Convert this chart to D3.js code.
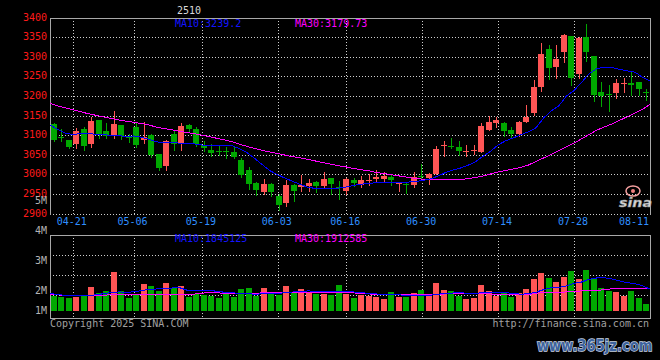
<!DOCTYPE html>
<html><head><meta charset="utf-8">
<script src="https://cdn.jsdelivr.net/npm/d3@7/dist/d3.min.js"></script>
<style>html,body{margin:0;padding:0;background:#000;overflow:hidden}</style>
</head><body><svg id="c" width="660" height="360"></svg>
<script>
const title = "2510";
const dates = ["04-16","04-17","04-18","04-21","04-22","04-23","04-24","04-25","04-28","04-29","04-30","05-06","05-07","05-08","05-09","05-12","05-13","05-14","05-15","05-16","05-19","05-20","05-21","05-22","05-23","05-26","05-27","05-28","05-29","05-30","06-03","06-04","06-05","06-06","06-09","06-10","06-11","06-12","06-13","06-16","06-17","06-18","06-19","06-20","06-23","06-24","06-25","06-26","06-27","06-30","07-01","07-02","07-03","07-04","07-07","07-08","07-09","07-10","07-11","07-14","07-15","07-16","07-17","07-18","07-21","07-22","07-23","07-24","07-25","07-28","07-29","07-30","07-31","08-01","08-04","08-05","08-06","08-07","08-08","08-11"];
const open  = [3129,3097,3089,3078,3118,3078,3139,3113,3099,3128, 3098,3121,3088,3102,3052,3022,3105,3082,3126,3118, 3076,3064,3061,3061,3057,3038,3011,2980,2957,2977, 2947,2927,2975,2968,2972,2982,2972,2993,2970,2958, 2988,2975,2987,2989,2989,2995,2977,2976,2974,2998, 2991,3003,3074,3074,3070,3060,3061,3058,3114,3133, 3131,3115,3103,3135,3158,3224,3320,3275,3314,3353, 3258,3352,3303,3211,3207,3208,3234,3234,3236,3212];
const high  = [3133,3118,3090,3120,3123,3147,3139,3132,3164,3128, 3105,3131,3135,3105,3052,3088,3112,3133,3130,3121, 3085,3079,3074,3070,3070,3043,3019,2982,2989,2979, 2951,2987,2976,3000,2989,2985,3008,2993,2985,2993, 2993,2997,3001,3012,3007,3003,2978,2978,3007,3027, 3005,3073,3086,3095,3086,3075,3077,3132,3149,3147, 3135,3123,3137,3177,3242,3336,3330,3330,3359,3353, 3351,3384,3303,3236,3230,3244,3247,3262,3238,3219];
const low   = [3086,3085,3069,3069,3062,3070,3094,3094,3094,3091, 3083,3070,3082,3045,3013,3011,3064,3064,3109,3073, 3061,3047,3051,3043,3043,2994,2964,2949,2951,2947, 2910,2921,2932,2959,2959,2955,2970,2952,2938,2950, 2971,2969,2975,2982,2985,2975,2958,2953,2970,2991, 2976,3001,3047,3069,3050,3047,3054,3058,3114,3122, 3100,3094,3100,3135,3152,3214,3245,3247,3289,3230, 3248,3291,3187,3175,3164,3196,3212,3204,3204,3191];
const close = [3089,3093,3072,3113,3073,3136,3105,3100,3129,3100, 3093,3075,3096,3050,3018,3085,3079,3125,3116,3079, 3068,3055,3060,3060,3045,3000,2977,2961,2977,2957, 2924,2975,2958,2975,2980,2972,2989,2977,2969,2990, 2980,2986,2988,2995,2997,2986,2978,2975,2995,2997, 3003,3065,3075,3072,3060,3061,3063,3124,3134,3140, 3111,3103,3134,3148,3225,3308,3272,3295,3357,3247, 3350,3313,3204,3201,3205,3234,3235,3230,3218,3210];
const volume = [1235000,1176000,1126000,1176000,1235000,1992000,1487000,1655000,3277000,1655000,
  1092000,1319000,2269000,2101000,1681000,2353000,1908000,2076000,1176000,1429000,
  1319000,1294000,1092000,1462000,1176000,1824000,1908000,1235000,1908000,1513000,
  1319000,2101000,1597000,1824000,1630000,1462000,1403000,1319000,2160000,1429000,
  1092000,1345000,1261000,1151000,983000,1571000,1176000,1151000,1487000,1739000,
  1261000,2328000,1739000,1655000,1261000,983000,1092000,2160000,1655000,1261000,
  1487000,1176000,1487000,1824000,2664000,3168000,2748000,2471000,2832000,3336000,
  2664000,3420000,2664000,1908000,1655000,1571000,1261000,1655000,1092000,563000];
const ma10 = [3127,3116,3106,3103,3105,3106,3103,3102,3101,3100, 3098,3099,3096,3091,3084,3082,3082,3081,3080,3079, 3076,3074,3074,3074,3074,3066,3056,3041,3025,3010, 3000,2991,2983,2975,2968,2965,2965,2965,2966,2969, 2973,2976,2978,2980,2981,2981,2981,2981,2983,2985, 2989,2996,3005,3012,3017,3024,3033,3047,3060,3076, 3087,3094,3102,3110,3120,3145,3163,3176,3201,3215, 3236,3258,3271,3274,3274,3269,3265,3262,3249,3239.2];
const ma30 = [3182,3176,3171,3166,3161,3156,3152,3148,3144,3140, 3137,3134,3131,3127,3122,3118,3115,3111,3108,3105, 3101,3097,3093,3089,3084,3078,3072,3067,3062,3058, 3054,3050,3046,3043,3039,3035,3031,3027,3023,3020, 3016,3013,3010,3006,3003,3000,2997,2994,2991,2989, 2988,2988,2988,2988,2988,2990,2993,2997,3002,3007, 3011,3015,3019,3025,3034,3043,3052,3062,3071,3081, 3092,3103,3114,3122,3130,3139,3148,3157,3167,3179.73];
const volMa10 = [1460000,1400000,1300000,1280000,1320000,1330000,1350000,1450000,1550000,1600000, 1590000,1600000,1720000,1810000,1850000,1890000,1930000,1970000,1760000,1740000, 1760000,1760000,1640000,1580000,1530000,1480000,1480000,1390000,1470000,1470000, 1470000,1550000,1600000,1640000,1690000,1650000,1600000,1610000,1630000,1620000, 1600000,1530000,1490000,1430000,1360000,1370000,1350000,1330000,1270000,1300000, 1310000,1410000,1460000,1510000,1540000,1480000,1470000,1570000,1590000,1540000, 1560000,1450000,1420000,1440000,1580000,1800000,1960000,1990000,2110000,2320000, 2440000,2660000,2780000,2790000,2690000,2530000,2380000,2300000,2120000,1845125];
const volMa30 = [1430000,1360000,1300000,1290000,1290000,1290000,1300000,1340000,1350000,1360000, 1390000,1400000,1400000,1400000,1400000,1400000,1410000,1410000,1410000,1420000, 1500000,1540000,1540000,1470000,1460000,1460000,1460000,1470000,1530000,1550000, 1550000,1550000,1550000,1550000,1550000,1550000,1550000,1550000,1550000,1550000, 1520000,1450000,1430000,1420000,1360000,1350000,1350000,1350000,1350000,1350000, 1360000,1420000,1430000,1430000,1430000,1430000,1430000,1430000,1430000,1360000, 1350000,1350000,1350000,1360000,1500000,1550000,1570000,1580000,1600000,1630000, 1700000,1720000,1730000,1800000,1870000,1880000,1860000,1850000,1880000,1912585];
const priceTicks = [3400,3350,3300,3250,3200,3150,3100,3050,3000,2950,2900];
const dateTicks = ["04-21","05-06","05-19","06-03","06-16","06-30","07-14","07-28","08-11"];
const volTicks = [5000000,4000000,3000000,2000000,1000000];

const W = 660, H = 360;
const L = 50, R = 650, mainTop = 18, mainBot = 214, volTop = 235, volBot = 318, volBase = 311;
const FONT = "DejaVu Sans Mono";
const RED = "#ff5555", GREEN = "#00a800", GRID = "#cfcfcf", BORDER = "#a8a8a8";

const svg = d3.select("#c");
svg.append("rect").attr("width", W).attr("height", H).attr("fill", "#000");

const xBand = d3.scaleBand().domain(dates).range([L, R]).paddingInner(0.2).paddingOuter(0.1);
const xPt = d3.scalePoint().domain(dates).range([L, R]);
const yP = d3.scaleLinear().domain([2900, 3400]).range([mainBot, mainTop]);
const yV = d3.scaleLinear().domain([0, 6390000]).range([volBase, volTop]);
const yVLab = d3.scaleLinear().domain([1000000, 2000000, 5000000]).range([314.3, 294, 204.3]);

const rows = dates.map((d, i) => ({d, o: open[i], h: high[i], l: low[i], c: close[i], v: volume[i]}));
const colorOf = r => (r.c > r.o ? RED : (r.c < r.o ? GREEN : RED));

// grid
const grid = svg.append("g").attr("stroke", GRID).attr("stroke-dasharray", "1,2").attr("shape-rendering", "crispEdges");
priceTicks.filter(t => t < 3400).forEach(t => {
  const y = Math.floor(yP(t)) + 0.5;
  grid.append("line").attr("x1", L).attr("x2", R).attr("y1", y).attr("y2", y);
});
dateTicks.forEach(d => {
  const x = Math.round(xPt(d)) + 0.5;
  grid.append("line").attr("x1", x).attr("x2", x).attr("y1", mainTop).attr("y2", mainBot);
  grid.append("line").attr("x1", x).attr("x2", x).attr("y1", volTop).attr("y2", volBot);
});
[1, 2, 3].forEach(k => {
  const y = volTop + k * 20 + 0.5;
  grid.append("line").attr("x1", L).attr("x2", R).attr("y1", y).attr("y2", y);
});

// borders
const bd = svg.append("g").attr("stroke", BORDER).attr("shape-rendering", "crispEdges");
bd.append("line").attr("x1", L).attr("x2", R + 1).attr("y1", mainTop + 0.5).attr("y2", mainTop + 0.5);
bd.append("line").attr("x1", L + 0.5).attr("x2", L + 0.5).attr("y1", mainTop).attr("y2", mainBot + 1);
bd.append("line").attr("x1", R + 0.5).attr("x2", R + 0.5).attr("y1", mainTop).attr("y2", mainBot + 1);
bd.append("line").attr("x1", L).attr("x2", R + 1).attr("y1", volTop + 0.5).attr("y2", volTop + 0.5);
bd.append("line").attr("x1", L).attr("x2", R + 1).attr("y1", volBot + 0.5).attr("y2", volBot + 0.5);
bd.append("line").attr("x1", L + 0.5).attr("x2", L + 0.5).attr("y1", volTop).attr("y2", volBot + 1);
bd.append("line").attr("x1", R + 0.5).attr("x2", R + 0.5).attr("y1", volTop).attr("y2", volBot + 1);

// volume bars
const bw = Math.round(xBand.bandwidth());
svg.append("g").attr("shape-rendering", "crispEdges").selectAll("rect").data(rows).join("rect")
  .attr("x", r => Math.round(xBand(r.d)))
  .attr("width", bw)
  .attr("y", r => Math.round(yV(r.v)))
  .attr("height", r => volBase - Math.round(yV(r.v)))
  .attr("fill", colorOf);

// candles
const cg = svg.append("g").attr("shape-rendering", "crispEdges");
const cand = cg.selectAll("g").data(rows).join("g");
cand.append("rect")
  .attr("x", r => Math.round(xBand(r.d)) + Math.floor(bw / 2))
  .attr("width", 1)
  .attr("y", r => Math.round(yP(r.h)))
  .attr("height", r => Math.max(1, Math.round(yP(r.l)) - Math.round(yP(r.h)) + 1))
  .attr("fill", colorOf);
cand.append("rect")
  .attr("x", r => Math.round(xBand(r.d)))
  .attr("width", bw)
  .attr("y", r => Math.round(yP(Math.max(r.o, r.c))))
  .attr("height", r => Math.max(1, Math.round(yP(Math.min(r.o, r.c))) - Math.round(yP(Math.max(r.o, r.c)))))
  .attr("fill", colorOf);

// MA lines
const lineP = d3.line().x((v, i) => xPt(dates[i])).y(v => yP(v));
const lineV = d3.line().x((v, i) => xPt(dates[i])).y(v => yV(v));
const lg = svg.append("g").attr("fill", "none").attr("stroke-width", 1).attr("shape-rendering", "crispEdges");
lg.append("path").attr("d", lineP(ma30)).attr("stroke", "#ff00ff");
lg.append("path").attr("d", lineP(ma10)).attr("stroke", "#0000ff");
lg.append("path").attr("d", lineV(volMa30)).attr("stroke", "#ff00ff");
lg.append("path").attr("d", lineV(volMa10)).attr("stroke", "#0000ff");

// texts
const txt = svg.append("g").attr("font-family", FONT).attr("font-size", 10);
txt.selectAll("text.py").data(priceTicks).join("text").attr("class", "py")
  .attr("x", 47).attr("y", t => Math.floor(yP(t)) + 2.5).attr("text-anchor", "end")
  .attr("fill", "#ff1a1a").text(t => t);
txt.selectAll("text.dx").data(dateTicks).join("text").attr("class", "dx")
  .attr("x", d => (xPt(d) + 15 > R ? R - 1 : xPt(d) - 1))
  .attr("y", 225)
  .attr("text-anchor", d => (xPt(d) + 15 > R ? "end" : "middle"))
  .attr("fill", "#2f8fff").text(d => d);
txt.selectAll("text.vy").data(volTicks).join("text").attr("class", "vy")
  .attr("x", 47).attr("y", v => yVLab(v)).attr("text-anchor", "end")
  .attr("fill", "#b4b4b4").text(v => (v / 1000000) + "M");

txt.append("text").attr("x", 189).attr("y", 14).attr("text-anchor", "middle").attr("fill", "#d8d8d8").text(title);
txt.append("text").attr("x", 175).attr("y", 26.5).attr("fill", "#1414ff").text("MA10:" + ma10[ma10.length - 1]);
txt.append("text").attr("x", 295).attr("y", 26.5).attr("fill", "#ff00ff").text("MA30:" + ma30[ma30.length - 1]);
txt.append("text").attr("x", 175).attr("y", 242).attr("fill", "#1414ff").text("MA10:" + volMa10[volMa10.length - 1]);
txt.append("text").attr("x", 295).attr("y", 242).attr("fill", "#ff00ff").text("MA30:" + volMa30[volMa30.length - 1]);
txt.append("text").attr("x", 50).attr("y", 327).attr("fill", "#a0a0a0").text("Copyright 2025 SINA.COM");
txt.append("text").attr("x", 649).attr("y", 327).attr("text-anchor", "end").attr("fill", "#a0a0a0").text("http://finance.sina.com.cn");

// sina logo watermark
const logo = svg.append("g");
logo.append("ellipse").attr("cx", 633).attr("cy", 191).attr("rx", 7).attr("ry", 5)
  .attr("fill", "none").attr("stroke", "#f5a0a0").attr("stroke-width", 1.5);
logo.append("circle").attr("cx", 633).attr("cy", 191).attr("r", 2).attr("fill", "#f08080");
logo.append("text").attr("x", 619).attr("y", 207).attr("font-family", "DejaVu Sans").attr("font-weight", "bold")
  .attr("font-style", "italic").attr("font-size", 12).attr("fill", "#d8d8d8").attr("stroke", "#909090")
  .attr("stroke-width", 0.5).attr("textLength", 33).attr("lengthAdjust", "spacingAndGlyphs").text("sina");

// site watermark (horizontally condensed via transform)
svg.append("g").attr("transform", "translate(537,351) scale(0.82,1)")
  .append("text").attr("x", 0).attr("y", 0).attr("font-family", "DejaVu Sans").attr("font-weight", "bold")
  .attr("font-size", 16).attr("fill", "#3d639e").attr("stroke", "#c9d3e3").attr("stroke-width", 1.5)
  .attr("paint-order", "stroke").text("www.365jz.com");
</script>
</body></html>
